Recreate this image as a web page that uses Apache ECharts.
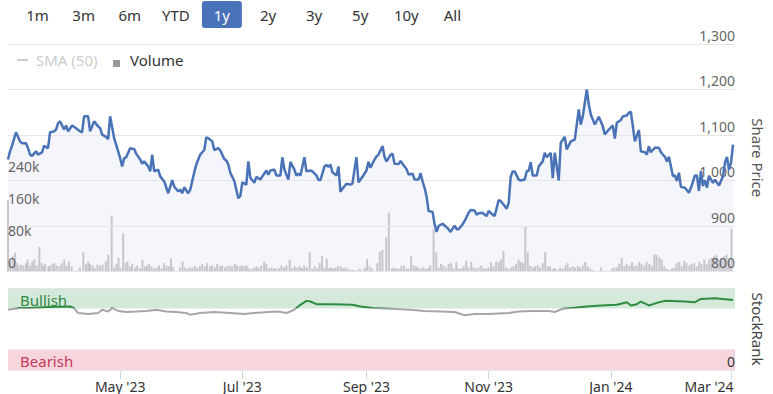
<!DOCTYPE html>
<html>
<head>
<meta charset="utf-8">
<script src="https://cdn.jsdelivr.net/npm/echarts@6/dist/echarts.min.js"></script>
<style>
html,body{margin:0;padding:0;background:#fff;}
#chart{width:773px;height:394px;}
</style>
</head>
<body>
<div id="chart"></div>
<script>
// ---------- DATA ----------
const startDate = '2023-03-06';          // day 0 of the x axis
const endDay = 363;                       // last day shown (offset from startDate)
const rangeButtons = ['1m','3m','6m','YTD','1y','2y','3y','5y','10y','All'];
const selectedRange = '1y';
const legendItems = ['SMA (50)', 'Volume'];
const monthTickDates = ['2023-05-01','2023-07-01','2023-09-01','2023-11-01','2024-01-01','2024-03-01'];
const monthTickLabels = ["May '23","Jul '23","Sep '23","Nov '23","Jan '24","Mar '24"];
const priceAxisTicks = [800, 900, 1000, 1100, 1200, 1300];
const volumeAxisTicks = [0, 80, 160, 240];   // thousands
const rankBandBullish = [75, 100];
const rankBandBearish = [0, 25];
const rankBandNames = ['Bullish', 'Bearish'];

// [day offset, share price]
const pricePoints = [[0,1046],[1,1064],[2,1076],[4,1106],[6,1086],[7,1082],[9,1082],[10,1071],[11,1057],[12,1054],[14,1064],[15,1057],[17,1062],[18,1076],[20,1071],[21,1106],[23,1108],[24,1112],[25,1126],[26,1130],[28,1112],[29,1121],[30,1108],[32,1121],[34,1115],[36,1108],[37,1106],[38,1141],[40,1141],[41,1108],[43,1130],[45,1119],[46,1115],[47,1101],[49,1096],[50,1091],[51,1141],[53,1093],[54,1079],[56,1049],[57,1031],[58,1049],[59,1051],[61,1071],[63,1069],[64,1059],[66,1046],[67,1037],[68,1042],[70,1031],[71,1020],[72,1057],[73,1020],[75,1024],[76,1009],[78,998],[80,972],[82,1001],[83,987],[85,976],[86,980],[87,972],[88,985],[90,972],[91,980],[93,1018],[94,1035],[96,1057],[97,1062],[98,1067],[99,1095],[100,1093],[102,1086],[103,1067],[105,1071],[106,1066],[108,1047],[109,1044],[110,1035],[111,1017],[113,999],[114,980],[115,961],[116,966],[117,996],[119,991],[120,1042],[121,1006],[123,995],[124,1008],[126,1002],[127,1009],[129,1022],[130,1013],[131,1022],[133,1024],[134,1011],[136,1011],[137,1051],[138,1024],[140,1002],[141,1041],[143,1024],[144,1011],[145,1015],[146,1011],[148,1051],[149,1020],[151,1022],[152,1020],[154,1011],[155,1001],[156,1001],[158,1031],[159,1034],[160,1030],[161,1035],[162,1018],[164,1011],[165,1031],[166,975],[167,982],[169,993],[171,991],[172,993],[173,1024],[174,1051],[175,996],[177,1008],[179,1022],[180,1041],[181,1028],[183,1046],[184,1053],[185,1057],[187,1076],[188,1052],[189,1042],[191,1056],[192,1059],[193,1037],[195,1036],[196,1043],[198,1031],[199,1025],[200,1013],[202,1015],[203,1002],[205,1002],[206,1016],[207,998],[208,984],[209,965],[210,933],[212,931],[213,904],[214,887],[215,900],[217,905],[218,901],[220,893],[221,887],[223,901],[224,893],[225,893],[227,904],[228,911],[230,929],[231,935],[233,934],[234,925],[235,928],[237,929],[238,925],[239,922],[240,933],[242,925],[243,922],[245,957],[246,955],[248,944],[249,938],[250,951],[251,1008],[252,1020],[253,1020],[255,1002],[256,1000],[258,1002],[259,1020],[260,1022],[261,1040],[262,1011],[264,1011],[265,1031],[267,1042],[268,1061],[269,1051],[271,1061],[272,1005],[273,1061],[275,1000],[276,1083],[278,1096],[279,1068],[281,1086],[283,1090],[285,1156],[286,1123],[287,1141],[289,1200],[290,1167],[291,1145],[293,1123],[295,1140],[297,1119],[298,1101],[300,1112],[302,1121],[303,1092],[304,1127],[306,1133],[307,1141],[309,1143],[310,1149],[311,1151],[312,1119],[313,1086],[315,1111],[316,1064],[318,1062],[319,1057],[320,1075],[321,1062],[323,1072],[325,1072],[326,1062],[328,1052],[329,1042],[330,1052],[332,1010],[333,1011],[334,999],[335,1017],[336,986],[338,984],[340,973],[341,984],[343,1011],[344,1011],[345,977],[346,1021],[347,988],[348,1001],[349,984],[350,1010],[352,995],[353,1002],[355,989],[356,999],[357,1010],[358,1039],[359,1052],[360,1024],[361,1039],[362,1079]];

// [day offset, volume in thousands]
const volumePoints = [[0,178],[1,25],[2.3,38],[3.5,47],[4.3,21],[5.1,15],[6.3,17],[7.6,15],[8.9,21],[9.7,30],[10.9,15],[12,25],[13,30],[14.2,15],[15.5,61],[16.6,21],[17.4,15],[18.3,19],[19.9,13],[20.7,15],[22,19],[22.9,21],[24,15],[25.3,13],[26.5,21],[27.8,30],[28.9,15],[30.1,25],[31.4,13],[35.5,10],[37.2,48],[38.5,19],[39.6,25],[40.5,19],[41.8,15],[42.9,8],[44.1,17],[45.4,15],[46.7,17],[48.3,25],[49.5,42],[51.2,140],[52.5,10],[53.6,19],[54.6,34],[55.6,8],[56.9,95],[58.1,21],[59,25],[60.2,13],[61.3,19],[62.7,10],[63.8,15],[65.1,8],[66.4,30],[67.6,13],[68.6,15],[69.7,19],[70.9,13],[72.2,8],[73.4,10],[74.6,15],[75.8,8],[77,21],[78.3,15],[79.4,13],[80.5,32],[81.6,10],[84.9,10],[86.2,25],[87.3,10],[88.5,7],[89.8,10],[91.1,10],[92.3,13],[93.4,8],[94.7,13],[95.9,19],[97.2,13],[98.3,21],[99.7,13],[100.8,15],[102.1,10],[103.3,19],[104.6,13],[105.7,15],[107.1,10],[108.2,13],[109.5,15],[110.7,13],[112,19],[113.1,15],[114.5,13],[115.6,15],[116.9,13],[117.9,15],[118.9,8],[120.2,7],[121.5,10],[122.7,13],[123.8,10],[125.1,15],[126.5,25],[127.6,19],[128.8,8],[130.1,10],[131.4,8],[132.5,7],[133.9,8],[135,15],[136.3,10],[137.5,15],[139.1,30],[140.3,8],[141.6,13],[142.9,10],[144.1,13],[145.2,8],[146.3,15],[147.6,10],[149,48],[150.3,7],[151.5,13],[152.8,8],[153.9,21],[155.1,38],[156.3,10],[157.4,32],[158.5,8],[159.6,10],[160.7,8],[161.8,10],[163,13],[164.3,13],[165.4,8],[166.6,10],[167.9,7],[169.2,4],[170.4,4],[172,3],[173.7,7],[174.8,2],[176.1,10],[177.3,31],[178.6,13],[179.7,7],[182.4,21],[183.6,49],[184.9,54],[186.8,86],[188.1,147],[189.6,8],[190.7,10],[191.8,8],[192.9,7],[194.2,13],[195.5,15],[196.7,7],[197.8,8],[199.1,38],[200.3,15],[201.4,13],[202.5,10],[203.8,7],[204.9,10],[206.1,8],[207.4,8],[208.5,15],[210.2,106],[211.5,48],[212.6,10],[213.9,19],[215.1,15],[216.4,10],[217.6,19],[218.9,21],[220,8],[221.4,24],[222.5,8],[223.8,7],[225,13],[226.3,27],[227.4,10],[228.8,24],[229.9,10],[231.2,8],[232.4,10],[233.7,15],[235,8],[236.2,7],[237.3,10],[238.6,23],[239.8,13],[241.1,25],[242.4,24],[243.5,30],[244.7,51],[246,10],[247.2,7],[248.5,10],[249.6,13],[250.9,19],[252.2,30],[253.3,24],[254.4,21],[255.5,112],[256.7,48],[257.9,15],[259.2,10],[260.3,13],[261.6,15],[262.8,10],[264.1,21],[265.3,48],[266.6,13],[267.7,13],[269,7],[270.2,8],[271.5,4],[272.7,10],[274,7],[275.3,15],[276.4,21],[277.6,10],[278.9,13],[280.1,10],[281.4,13],[282.5,10],[283.8,15],[285.1,24],[286.3,13],[287.5,7],[288.8,4],[292.9,10],[298.3,7],[299.5,10],[300.8,10],[301.9,19],[303.1,34],[304.4,13],[305.5,19],[306.9,15],[308.2,24],[309.3,13],[310.5,15],[311.8,24],[312.9,19],[314.3,15],[315.4,24],[316.7,19],[317.9,15],[319.2,42],[320.3,41],[321.7,36],[322.8,30],[324.1,13],[325.3,7],[326.6,4],[327.9,7],[329.1,10],[330.2,21],[331.5,24],[332.7,13],[334,27],[335.1,21],[336.5,15],[337.6,19],[338.9,21],[340.1,13],[341.4,24],[342.5,19],[343.9,30],[345,19],[346.3,30],[347.5,34],[348.8,38],[349.9,42],[351.3,30],[352.4,34],[353.7,38],[354.9,42],[356.2,30],[357.3,106]];

// [day offset, StockRank]
const rankPoints = [[0,73.5],[6,75.5],[11,75.5],[20,76.7],[31,77.5],[33,75.5],[35,69.5],[40,68.3],[45,69.5],[47,73.5],[50,71.3],[52,75.5],[55,72],[59,70.7],[64,71.3],[69,72],[74,73.5],[79,71.3],[84,70.7],[89,69.5],[91,67.5],[96,69.5],[103,70.7],[111,69.5],[118,68.3],[123,69.5],[130,70.7],[135,71.3],[139,69.5],[143,73.5],[146,79.5],[149,84.3],[151,83.5],[154,80.3],[162,80.3],[172,79.5],[176,77.5],[182,75.5],[191,74.7],[201,73.5],[208,72],[216,71.3],[223,70.7],[228,66.7],[233,68.3],[240,68.3],[250,69.5],[255,71.3],[262,72],[270,72],[273,70.7],[277,74.7],[284,76.3],[289,77.5],[296,78.7],[304,79.5],[309,82.7],[311,78.7],[314,80.3],[316,83.5],[320,78.7],[324,81.9],[328,84.3],[338,83.5],[343,82.7],[346,86.7],[353,87.5],[362,85.5]];

// ---------- CHART ----------
const FONT = "'Noto Sans', sans-serif";
const DAY = 86400000;
const t0 = Date.parse(startDate + 'T00:00:00Z');
const toTs = d => t0 + d * DAY;
const xMin = t0, xMax = toTs(endDay);
const tickTs = monthTickDates.map(s => Date.parse(s + 'T00:00:00Z'));
const labelOf = {};
tickTs.forEach((t, i) => labelOf[t] = monthTickLabels[i]);

const priceData = pricePoints.map(p => [toTs(p[0]), p[1]]);
const volumeData = volumePoints.map(p => [toTs(p[0]), p[1]]);
const rankData = rankPoints.map(p => [toTs(p[0]), p[1]]);

const gridLeft = 8, gridRight = 30;
const chart = echarts.init(document.getElementById('chart'), null, {renderer: 'svg'});

const graphics = [];
rangeButtons.forEach((b, i) => {
  const cx = 37.5 + i * 46.1;
  const sel = b === selectedRange;
  if (sel) graphics.push({type: 'rect', shape: {x: cx - 20, y: 1, width: 40, height: 27, r: 3}, style: {fill: '#4a72b8'}});
  graphics.push({type: 'text', x: cx, y: 14.5, style: {text: b, font: '15px ' + FONT, fill: sel ? '#fff' : '#333', textAlign: 'center', textVerticalAlign: 'middle'}});
});
graphics.push({type: 'line', shape: {x1: 17, y1: 60, x2: 28, y2: 60}, style: {stroke: '#cccccc', lineWidth: 2}});
graphics.push({type: 'text', x: 36, y: 60, style: {text: legendItems[0], font: '15px ' + FONT, fill: '#cccccc', textVerticalAlign: 'middle'}});
graphics.push({type: 'rect', shape: {x: 113, y: 60, width: 7, height: 7}, style: {fill: '#999'}});
graphics.push({type: 'text', x: 130, y: 60, style: {text: legendItems[1], font: '15px ' + FONT, fill: '#333', textVerticalAlign: 'middle'}});

const hiddenX = {type: 'value', min: xMin, max: xMax, show: false};

const option = {
  animation: false,
  backgroundColor: '#fff',
  textStyle: {fontFamily: FONT},
  graphic: graphics,
  grid: [
    {left: gridLeft, right: gridRight, top: 44, height: 227.5},
    {left: gridLeft, right: gridRight, top: 171.5, height: 100},
    {left: gridLeft, right: gridRight, top: 288, height: 82}
  ],
  xAxis: [
    Object.assign({gridIndex: 0}, hiddenX),
    Object.assign({gridIndex: 1}, hiddenX),
    {
      gridIndex: 2, type: 'value', min: xMin, max: xMax,
      axisLine: {show: false},
      splitLine: {show: false},
      axisTick: {show: true, customValues: tickTs, length: 9, lineStyle: {color: '#ccd6eb'}},
      axisLabel: {
        customValues: tickTs, margin: 9, color: '#333', fontSize: 14, fontFamily: FONT,
        formatter: v => {
          const l = labelOf[v] || '';
          return v === tickTs[tickTs.length - 1] ? '{r|' + l + '}' : l;
        },
        rich: {r: {padding: [0, 44, 0, 0], color: '#333', fontSize: 14, fontFamily: FONT}}
      }
    }
  ],
  yAxis: [
    {
      gridIndex: 0, type: 'value', position: 'right', z: 2.5,
      min: priceAxisTicks[0], max: priceAxisTicks[priceAxisTicks.length - 1],
      interval: priceAxisTicks[1] - priceAxisTicks[0],
      axisLine: {show: false}, axisTick: {show: false},
      splitLine: {lineStyle: {color: '#e6e6e6', width: 1}},
      axisLabel: {inside: true, margin: 0, verticalAlign: 'bottom', padding: [0, 0, 2, 0],
        color: '#666', fontSize: 14, fontFamily: FONT, formatter: v => v.toLocaleString('en-US')},
      name: 'Share Price', nameLocation: 'middle', nameRotate: -90, nameGap: 15,
      nameTextStyle: {color: '#555', fontSize: 15, fontFamily: FONT}
    },
    {
      gridIndex: 1, type: 'value', position: 'left', z: 4,
      min: 0, max: 250, interval: volumeAxisTicks[1] - volumeAxisTicks[0],
      axisLine: {show: false}, axisTick: {show: false}, splitLine: {show: false},
      axisLabel: {inside: true, margin: 0, verticalAlign: 'bottom', padding: [0, 0, 2, 0], showMaxLabel: false,
        color: '#666', fontSize: 14, fontFamily: FONT,
        formatter: v => volumeAxisTicks.indexOf(v) < 0 ? '' : (v === 0 ? '0' : v + 'k')}
    },
    {
      gridIndex: 2, type: 'value', position: 'right', min: 0, max: 100, interval: 100, z: 4,
      axisLine: {show: false}, axisTick: {show: false},
      splitLine: {lineStyle: {color: '#e6e6e6', width: 1}},
      axisLabel: {inside: true, margin: 0, verticalAlign: 'bottom', padding: [0, 0, 2, 0],
        color: '#333', fontSize: 14, fontFamily: FONT, formatter: v => v === 0 ? '0' : ''},
      name: 'StockRank', nameLocation: 'middle', nameRotate: -90, nameGap: 15,
      nameTextStyle: {color: '#444', fontSize: 15, fontFamily: FONT}
    }
  ],
  visualMap: {
    type: 'piecewise', show: false, seriesIndex: 3, dimension: 1,
    pieces: [
      {gte: rankBandBullish[0], lte: rankBandBullish[1], color: '#2e8c42'},
      {gte: rankBandBearish[0], lt: rankBandBullish[0], color: '#a6a6a6'}
    ]
  },
  series: [
    {
      type: 'line', xAxisIndex: 0, yAxisIndex: 0, data: priceData, showSymbol: false, silent: true, z: 1,
      lineStyle: {width: 0, opacity: 0}, areaStyle: {color: '#f4f6fb', opacity: 1}
    },
    {
      type: 'bar', xAxisIndex: 1, yAxisIndex: 1, data: volumeData, barWidth: 2, z: 2, silent: true,
      itemStyle: {color: '#c6c7cc'}
    },
    {
      type: 'line', xAxisIndex: 0, yAxisIndex: 0, data: priceData, showSymbol: false, z: 3,
      lineStyle: {color: '#4a72b6', width: 2.5}
    },
    {
      type: 'line', xAxisIndex: 2, yAxisIndex: 2, data: rankData, showSymbol: false, z: 3,
      lineStyle: {width: 2},
      markArea: {
        silent: true,
        data: [
          [{yAxis: rankBandBullish[0], name: rankBandNames[0], itemStyle: {color: '#d4e9da'},
            label: {show: true, position: 'insideLeft', distance: 12, offset: [0, 2], color: '#2f8a41', fontSize: 15, fontFamily: FONT}},
           {yAxis: rankBandBullish[1]}],
          [{yAxis: rankBandBearish[0], name: rankBandNames[1], itemStyle: {color: '#f6d6dc'},
            label: {show: true, position: 'insideLeft', distance: 12, offset: [0, 1], color: '#c8385a', fontSize: 15, fontFamily: FONT}},
           {yAxis: rankBandBearish[1]}]
        ]
      }
    }
  ]
};
chart.setOption(option);
</script>
</body>
</html>
